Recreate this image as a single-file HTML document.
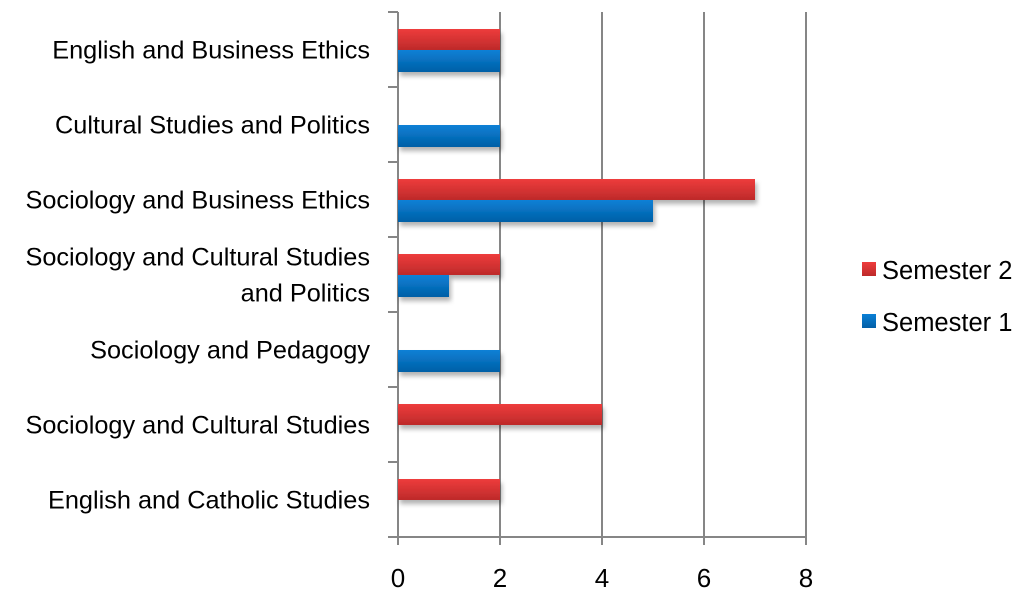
<!DOCTYPE html>
<html><head><meta charset="utf-8"><style>
html,body{margin:0;padding:0;background:#fff;}
svg text{font-family:"Liberation Sans",sans-serif;fill:#000;}
</style></head><body>
<svg id="chart" width="1024" height="594" xmlns="http://www.w3.org/2000/svg">
<defs>
<linearGradient id="gRed" x1="0" y1="0" x2="0" y2="1"><stop offset="0" stop-color="#ee3c3c"/><stop offset="1" stop-color="#bd2a2a"/></linearGradient>
<linearGradient id="gBlue" x1="0" y1="0" x2="0" y2="1"><stop offset="0" stop-color="#0a80d6"/><stop offset="1" stop-color="#035fa6"/></linearGradient>
<filter id="sh" x="-5%" y="-20%" width="115%" height="180%"><feDropShadow dx="2" dy="4" stdDeviation="2.5" flood-color="#000" flood-opacity="0.3"/></filter>
</defs>
<g id="grid"></g><g id="bars"></g><g id="axes"></g><g id="labels"></g>
<g id="legend">
<rect x="862" y="262" width="14" height="14" fill="url(#gRed)"/>
<text x="882" y="279" font-size="25.5">Semester 2</text>
<rect x="862" y="314" width="14" height="14" fill="url(#gBlue)"/>
<text x="882" y="331" font-size="25.5">Semester 1</text>
</g>
</svg>
<script>
const categories = [["English and Business Ethics"],["Cultural Studies and Politics"],["Sociology and Business Ethics"],["Sociology and Cultural Studies","and Politics"],["Sociology and Pedagogy"],["Sociology and Cultural Studies"],["English and Catholic Studies"]];
const semester2 = [2,0,7,2,0,4,2];
const semester1 = [2,2,5,1,2,0,0];
const xTicks = [0,2,4,6,8];

const NS="http://www.w3.org/2000/svg";
const X0=398, X1=806, XMAX=8, TOP=12, BOT=537;
const band=(BOT-TOP)/categories.length;
const x=v=>X0+(X1-X0)*v/XMAX;
const bandTop=i=>TOP+i*band;
function mk(tag,attrs,parent){const e=document.createElementNS(NS,tag);for(const k in attrs)e.setAttribute(k,attrs[k]);document.getElementById(parent).appendChild(e);return e;}

xTicks.forEach(t=>{
  const g=mk('line',{x1:x(t),x2:x(t),y1:TOP,y2:BOT+8,stroke:'#868686','stroke-width':2},'grid');
  
  
  const l=mk('text',{x:x(t),y:587,'font-size':26,'text-anchor':'middle'},'labels');
  l.textContent=t;
  
  
});
const ax=mk('line',{x1:X0-10,x2:X1,y1:BOT,y2:BOT,stroke:'#868686','stroke-width':2},'axes');


for(let i=0;i<=categories.length;i++){
  const tk=mk('line',{x1:X0-10,x2:X0,y1:bandTop(i),y2:bandTop(i),stroke:'#868686','stroke-width':2},'axes');
  
  
}
categories.forEach((c,i)=>{
  const bt=bandTop(i), bh=21;
  if(semester2[i]>0){
    const r=mk('rect',{x:X0,y:bt+17,width:x(semester2[i])-X0,height:bh,fill:'url(#gRed)',filter:'url(#sh)'},'bars');
    
    
  }
  if(semester1[i]>0){
    const r=mk('rect',{x:X0,y:bt+17+bh,width:x(semester1[i])-X0,height:bh+1,fill:'url(#gBlue)',filter:'url(#sh)'},'bars');
    
    
  }
  const cy=bt+band/2;
  c.forEach((line,j)=>{
    const t=mk('text',{x:370,y:cy+9+(j-(c.length-1)/2)*36,'font-size':25.3,'text-anchor':'end'},'labels');
    t.textContent=line;
    
    
  });
});
</script>
</body></html>
